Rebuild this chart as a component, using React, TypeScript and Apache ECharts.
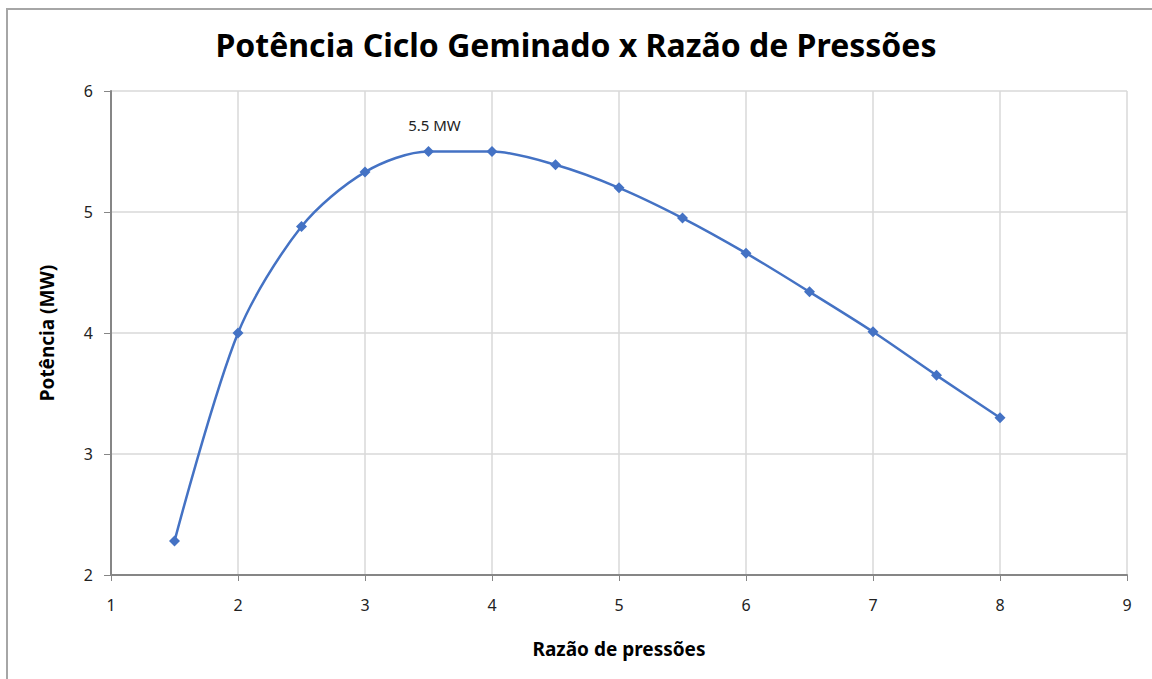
import React, { useEffect, useRef } from "react";
import * as echarts from "echarts";

const pressureRatio = [1.5, 2, 2.5, 3, 3.5, 4, 4.5, 5, 5.5, 6, 6.5, 7, 7.5, 8];
const powerMW = [2.28, 4.0, 4.88, 5.33, 5.5, 5.5, 5.39, 5.2, 4.95, 4.66, 4.34, 4.01, 3.65, 3.3];
const peakLabel = "5.5 MW";
const peakIndex = 4;
const titleText = "Potência Ciclo Geminado x Razão de Pressões";
const xName = "Razão de pressões";
const yName = "Potência (MW)";

export default function App() {
  const ref = useRef<HTMLDivElement>(null);
  useEffect(() => {
    if (!ref.current) return;
    const chart = echarts.init(ref.current, null, { renderer: "svg" });
    const data = pressureRatio.map((x, i) =>
      i === peakIndex
        ? {
            value: [x, powerMW[i]],
            label: {
              show: true,
              position: "top",
              distance: 14,
              offset: [6, 0],
              formatter: peakLabel,
              color: "#222",
              fontSize: 15,
              fontFamily: "Noto Sans",
            },
          }
        : { value: [x, powerMW[i]] }
    );
    chart.setOption({
      animation: false,
      backgroundColor: "#fff",
      title: {
        text: titleText,
        left: "center",
        top: 23,
        textStyle: { fontFamily: "Noto Sans", fontWeight: "bold", fontSize: 32, color: "#000" },
      },
      graphic: [
        {
          type: "rect",
          shape: { x: 7, y: 9, width: 1200, height: 700 },
          style: { fill: "none", stroke: "#a6a6a6", lineWidth: 2 },
          silent: true,
        },
      ],
      grid: { left: 111, top: 91, right: 25, bottom: 104 },
      xAxis: {
        type: "value",
        min: 1,
        max: 9,
        interval: 1,
        name: xName,
        nameLocation: "middle",
        nameGap: 64,
        nameTextStyle: { fontFamily: "Noto Sans", fontWeight: "bold", fontSize: 19, color: "#000" },
        axisLine: { show: true, lineStyle: { color: "#868686", width: 2 } },
        axisTick: { show: true, length: 6, lineStyle: { color: "#868686" } },
        axisLabel: { fontFamily: "Noto Sans", fontSize: 16, color: "#222", margin: 22 },
        splitLine: { show: true, lineStyle: { color: "#d9d9d9", width: 1.5 } },
      },
      yAxis: {
        type: "value",
        min: 2,
        max: 6,
        interval: 1,
        name: yName,
        nameLocation: "middle",
        nameGap: 55,
        nameTextStyle: { fontFamily: "Noto Sans", fontWeight: "bold", fontSize: 19, color: "#000" },
        axisLine: { show: true, lineStyle: { color: "#868686", width: 2 } },
        axisTick: { show: true, length: 7, lineStyle: { color: "#868686" } },
        axisLabel: { fontFamily: "Noto Sans", fontSize: 16, color: "#222", margin: 18 },
        splitLine: { show: true, lineStyle: { color: "#d9d9d9", width: 1.5 } },
      },
      series: [
        {
          type: "line",
          data,
          smooth: 0.3,
          symbol: "diamond",
          symbolSize: 11,
          lineStyle: { color: "#4472c4", width: 2.5 },
          itemStyle: { color: "#4472c4" },
        },
      ],
    });
    return () => chart.dispose();
  }, []);
  return <div ref={ref} style={{ position: "fixed", left: 0, top: 0, width: 1152, height: 679 }} />;
}
